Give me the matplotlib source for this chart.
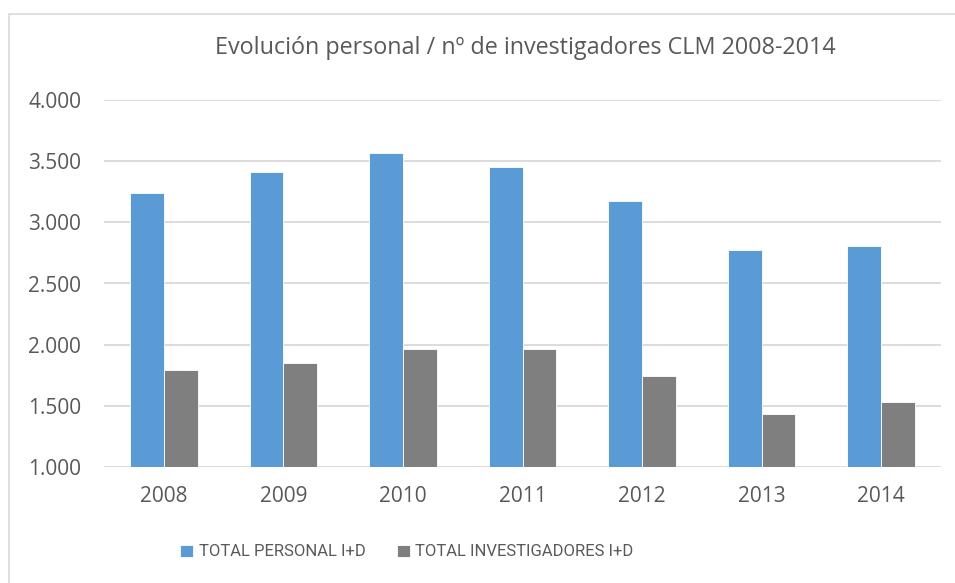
"""Evolución personal / nº de investigadores I+D en CLM, 2008-2014."""
import matplotlib
matplotlib.use("Agg")
import matplotlib.pyplot as plt
import numpy as np
from matplotlib.font_manager import FontProperties
from matplotlib.patches import Rectangle
from matplotlib.ticker import FuncFormatter

YEARS = ["2008", "2009", "2010", "2011", "2012", "2013", "2014"]
PERSONAL = [3240, 3412, 3567, 3455, 3173, 2777, 2810]
INVESTIGADORES = [1789, 1850, 1964, 1962, 1740, 1433, 1531]
SERIES = ["TOTAL PERSONAL I+D", "TOTAL INVESTIGADORES I+D"]
COLORS = ["#5B9BD5", "#7F7F7F"]
TXT = "#595959"

plt.rcParams["font.family"] = ["Open Sans", "DejaVu Sans"]

W, H = 955, 583
fig = plt.figure(figsize=(W / 100, H / 100), dpi=100)
ax = fig.add_axes([104 / W, 1 - 467 / H, (941 - 104) / W, (467 - 100) / H])

x = np.arange(len(YEARS))
w = 0.283
ax.bar(x - w / 2, PERSONAL, width=w, color=COLORS[0], edgecolor="white",
       linewidth=0.6, label=SERIES[0], zorder=3)
ax.bar(x + w / 2, INVESTIGADORES, width=w, color=COLORS[1], edgecolor="white",
       linewidth=0.6, label=SERIES[1], zorder=3)

ax.set_xlim(-0.5, len(YEARS) - 0.5)
ax.set_ylim(1000, 4000)
ax.set_yticks(np.arange(1000, 4001, 500))
ax.yaxis.set_major_formatter(FuncFormatter(lambda v, _: f"{v:,.0f}".replace(",", ".")))
ax.set_xticks(x)
ax.set_xticklabels(YEARS)
ax.grid(axis="y", color="#D9D9D9", linewidth=1.3, zorder=0)
for s in ax.spines.values():
    s.set_visible(False)
ax.tick_params(length=0, labelsize=15, colors=TXT)
ax.tick_params(axis="y", pad=16.5)
ax.tick_params(axis="x", pad=14)

fig.text(525 / W, 1 - 48 / H, "Evolución personal / nº de investigadores CLM 2008-2014",
         ha="center", va="center", fontsize=16.8, color=TXT)

fig.patches.append(Rectangle((9 / W, -0.05), 1.2, 1 - 14 / H + 0.05,
                             transform=fig.transFigure, fill=False,
                             edgecolor="#D9D9D9", linewidth=1.2))

leg_font = FontProperties(family=["Roboto", "Open Sans"], size=12)
fig.legend(loc="center", bbox_to_anchor=(407 / W, 1 - 552 / H), ncol=2,
           frameon=False, prop=leg_font, labelcolor=TXT, handlelength=0.75,
           handleheight=0.75, handletextpad=0.35, columnspacing=1.9)

fig.savefig("out.png", dpi=100)
